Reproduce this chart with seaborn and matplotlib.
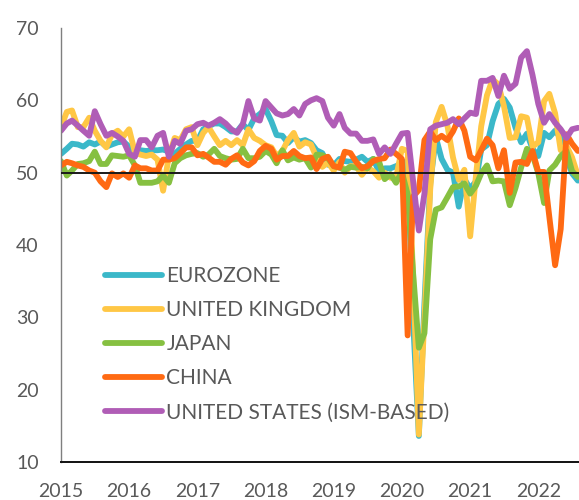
import pandas as pd
import numpy as np
import seaborn as sns
import matplotlib.pyplot as plt
import matplotlib.dates as mdates

# 月度综合PMI，2015年1月 - 2022年8月
eurozone = [52.6, 53.3, 54.0, 53.9, 53.6, 54.2, 53.9, 54.3, 53.6, 53.9, 54.2, 54.3,
            53.6, 53.0, 53.1, 53.0, 53.1, 53.1, 53.2, 52.9, 52.6, 53.3, 53.9, 54.4,
            54.4, 56.0, 56.4, 56.8, 56.8, 56.3, 55.7, 55.7, 56.7, 55.9, 57.5, 58.1,
            58.8, 57.1, 55.2, 55.1, 54.1, 54.9, 54.3, 54.5, 54.1, 53.1, 52.7, 51.1,
            51.0, 51.9, 51.6, 51.5, 51.8, 52.2, 51.5, 51.9, 50.1, 50.6, 50.6, 50.9,
            51.3, 51.6, 29.7, 13.6, 31.9, 48.5, 54.9, 51.9, 50.4, 50.0, 45.3, 49.1,
            47.8, 48.8, 53.2, 53.8, 57.1, 59.5, 60.2, 59.0, 56.2, 54.2, 55.4, 53.3,
            52.3, 55.5, 54.9, 55.8, 54.8, 52.0, 49.9, 48.9]
uk = [56.3, 58.4, 58.6, 56.3, 56.3, 57.6, 55.8, 54.4, 53.5, 55.3, 55.8, 55.0,
      56.0, 52.8, 52.5, 52.3, 52.5, 51.8, 47.5, 52.3, 54.8, 54.5, 56.0, 56.3,
      53.8, 55.5, 56.3, 55.0, 53.8, 54.4, 53.8, 54.5, 53.8, 56.0, 54.8, 54.4,
      53.8, 53.5, 52.3, 53.0, 54.5, 55.5, 53.6, 54.2, 53.9, 52.1, 50.8, 51.4,
      50.3, 51.5, 50.0, 50.9, 50.9, 49.7, 50.7, 50.2, 49.3, 50.0, 49.3, 49.3,
      53.3, 53.0, 36.0, 13.8, 30.0, 47.7, 57.0, 59.1, 56.5, 52.1, 49.0, 50.4,
      41.2, 49.6, 56.4, 60.7, 62.9, 62.2, 59.2, 54.8, 54.9, 57.8, 57.6, 53.6,
      54.2, 59.9, 60.9, 58.2, 53.1, 53.7, 52.1, 49.6]
japan = [51.6, 49.6, 50.3, 51.2, 51.3, 51.6, 52.9, 51.2, 51.2, 52.4, 52.3, 52.2,
         52.4, 51.0, 48.6, 48.6, 48.6, 48.8, 49.6, 48.6, 51.3, 52.0, 52.4, 52.6,
         52.7, 52.2, 52.5, 53.3, 52.3, 52.0, 51.8, 51.9, 53.3, 52.0, 52.0, 52.2,
         53.0, 52.5, 51.3, 53.1, 51.7, 52.1, 51.8, 52.0, 50.7, 52.5, 52.4, 52.0,
         50.9, 50.7, 50.4, 50.8, 50.7, 50.8, 50.6, 51.9, 51.5, 49.1, 49.8, 48.6,
         50.1, 47.0, 36.2, 25.8, 27.8, 40.8, 44.9, 45.2, 46.6, 48.0, 48.1, 48.5,
         47.1, 48.2, 49.9, 51.0, 48.8, 48.9, 48.8, 45.5, 47.9, 50.7, 53.3, 52.5,
         49.9, 45.8, 50.3, 51.1, 52.3, 53.0, 50.2, 49.4]
china = [51.0, 51.5, 51.3, 51.0, 50.8, 50.3, 50.0, 48.8, 48.0, 49.9, 49.4, 49.9,
         49.3, 51.0, 50.6, 50.6, 50.3, 50.3, 51.8, 51.8, 52.0, 52.7, 53.5, 53.5,
         52.4, 52.6, 52.1, 51.5, 51.5, 51.1, 51.9, 52.4, 51.4, 51.0, 51.6, 53.0,
         53.7, 53.3, 51.8, 52.3, 52.3, 53.0, 52.3, 52.0, 52.1, 50.5, 51.9, 52.2,
         50.9, 50.7, 52.9, 52.7, 51.5, 50.6, 50.9, 51.6, 51.9, 52.0, 53.2, 52.6,
         51.9, 27.5, 46.7, 47.6, 54.5, 55.7, 54.5, 55.1, 54.5, 55.7, 57.5, 55.8,
         52.2, 51.7, 53.1, 54.7, 53.8, 50.6, 53.1, 47.2, 51.4, 51.5, 51.2, 53.0,
         50.1, 50.1, 43.9, 37.2, 42.2, 55.3, 54.0, 53.0]
us = [55.8, 56.8, 57.2, 56.5, 55.8, 55.1, 58.5, 56.7, 55.1, 55.5, 55.0, 54.4,
      52.6, 52.2, 54.5, 54.5, 53.5, 55.1, 55.5, 52.2, 54.4, 54.0, 55.8, 56.0,
      56.7, 56.9, 56.5, 56.9, 57.4, 56.8, 56.0, 55.5, 56.7, 59.9, 57.5, 57.2,
      59.9, 59.0, 58.2, 57.9, 58.1, 58.8, 57.9, 59.5, 60.0, 60.3, 59.9, 57.6,
      56.5, 58.1, 56.2, 55.4, 55.4, 54.4, 54.4, 54.6, 52.6, 53.5, 52.6, 54.0,
      55.4, 55.5, 48.9, 42.0, 47.1, 56.0, 56.5, 56.7, 56.9, 57.4, 56.7, 57.5,
      58.3, 58.1, 62.7, 62.7, 63.1, 60.6, 63.4, 61.6, 62.3, 65.9, 66.8, 63.5,
      59.5, 56.9, 58.1, 56.9, 56.0, 54.8, 56.0, 56.2]

names = ['EUROZONE', 'UNITED KINGDOM', 'JAPAN', 'CHINA', 'UNITED STATES (ISM-BASED)']
colors = ['#3BB8C9', '#FFC745', '#86C041', '#FF6A13', '#B05DB6']
years = [2015, 2016, 2017, 2018, 2019, 2020, 2021, 2022]

dates = pd.date_range('2015-01-01', periods=len(eurozone), freq='MS')
df = pd.DataFrame({'date': dates, 'EUROZONE': eurozone, 'UNITED KINGDOM': uk,
                   'JAPAN': japan, 'CHINA': china, 'UNITED STATES (ISM-BASED)': us})
df = df.melt(id_vars='date', var_name='region', value_name='pmi')

sns.set_style('white')
plt.rcParams['font.family'] = ['Lato', 'DejaVu Sans']
text_color = '#595959'

fig = plt.figure(figsize=(5.79, 5.0), dpi=100)
ax = fig.add_axes([61 / 579, 38 / 500, 518 / 579, 434 / 500])

sns.lineplot(data=df, x='date', y='pmi', hue='region', hue_order=names,
             palette=colors, linewidth=4.2, ax=ax,
             solid_joinstyle='round', solid_capstyle='round')

ax.axhline(50, color='#1a1a1a', linewidth=1.4, zorder=10)

ax.set_ylim(10, 70)
ax.set_yticks(range(10, 71, 10))
ax.set_xlim(pd.Timestamp('2015-01-01'), pd.Timestamp('2022-08-07'))
ax.set_xticks([pd.Timestamp(f'{y}-01-01') for y in years])
ax.set_xticklabels([str(y) for y in years])
ax.set_xlabel('')
ax.set_ylabel('')
ax.tick_params(axis='both', length=0, labelsize=14, colors=text_color)
ax.tick_params(axis='y', pad=16)
ax.tick_params(axis='x', pad=15)

for s in ['top', 'right']:
    ax.spines[s].set_visible(False)
ax.spines['left'].set_color('#7f7f7f')
ax.spines['left'].set_linewidth(1.0)
ax.spines['bottom'].set_color('#111111')
ax.spines['bottom'].set_linewidth(1.4)

leg = ax.legend(loc='upper left', bbox_to_anchor=(0.085, 0.452), frameon=False,
                fontsize=15, handlelength=2.75, handletextpad=0.2,
                labelspacing=0.68, borderpad=0, borderaxespad=0)
for t in leg.get_texts():
    t.set_color(text_color)
for h in leg.get_lines():
    h.set_linewidth(4.2)
    h.set_solid_capstyle('round')

fig.savefig('out.png', dpi=100)
